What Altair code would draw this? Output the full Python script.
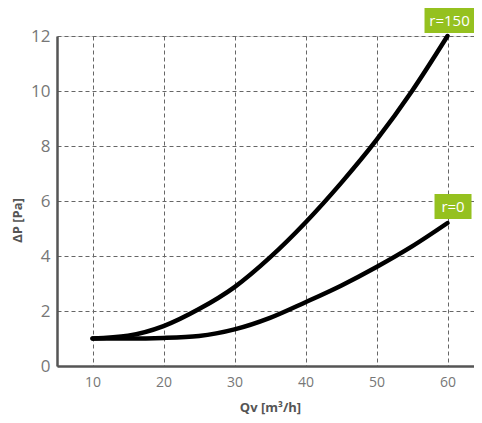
import altair as alt
import pandas as pd

qv = [10, 15, 20, 25, 30, 35, 40, 45, 50, 55, 60]
dp_r150 = [1.0, 1.1, 1.45, 2.07, 2.87, 3.95, 5.22, 6.65, 8.22, 10.0, 12.0]
dp_r0 = [1.0, 1.0, 1.02, 1.09, 1.33, 1.75, 2.32, 2.92, 3.6, 4.35, 5.2]
series = ["r=150", "r=0"]

rows = []
for q, a, b in zip(qv, dp_r150, dp_r0):
    rows.append({"qv": q, "dp": a, "s": series[0]})
    rows.append({"qv": q, "dp": b, "s": series[1]})
df = pd.DataFrame(rows)

labels = pd.DataFrame({
    "qv": [qv[-1], qv[-1]],
    "dp": [dp_r150[-1], dp_r0[-1]],
    "s": series,
})

FONT = "Open Sans"
x = alt.X("qv:Q", scale=alt.Scale(domain=[5, 63.73], nice=False, zero=False),
          axis=alt.Axis(values=[10, 20, 30, 40, 50, 60], title="Qv [m³/h]",
                        grid=True, gridDash=[4, 3], gridColor="#666", gridWidth=1,
                        ticks=False, domainColor="#555", domainWidth=2.5,
                        labelFontSize=14, labelColor="#777", labelPadding=9,
                        labelFont=FONT, titleFont=FONT, titleFontSize=13,
                        titleColor="#555", titleFontWeight="bold", titlePadding=12,
                        titleX=213))
y = alt.Y("dp:Q", scale=alt.Scale(domain=[0, 12], nice=False),
          axis=alt.Axis(values=[0, 2, 4, 6, 8, 10, 12], title="ΔP [Pa]",
                        grid=True, gridDash=[4, 3], gridColor="#666", gridWidth=1,
                        ticks=False, domainColor="#555", domainWidth=2.5,
                        labelFontSize=17, labelColor="#777", labelPadding=7,
                        labelFont=FONT, titleFont=FONT, titleFontSize=13,
                        titleColor="#555", titleFontWeight="bold",
                        titleX=-33, titleY=184))

lines = alt.Chart(df).mark_line(color="black", strokeWidth=4.5, interpolate="monotone",
                                strokeCap="round").encode(x=x, y=y, detail="s:N")

box150 = alt.Chart(labels[labels.s == "r=150"]).mark_rect(
    color="#95c11f", xOffset=-23, x2Offset=27, yOffset=-28, y2Offset=-3
).encode(x="qv:Q", x2="qv:Q", y="dp:Q", y2="dp:Q")
box0 = alt.Chart(labels[labels.s == "r=0"]).mark_rect(
    color="#95c11f", xOffset=-13, x2Offset=24, yOffset=-29, y2Offset=-4
).encode(x="qv:Q", x2="qv:Q", y="dp:Q", y2="dp:Q")
text150 = alt.Chart(labels[labels.s == "r=150"]).mark_text(
    color="white", font=FONT, fontSize=15, dx=2, dy=-15.5
).encode(x="qv:Q", y="dp:Q", text="s:N")
text0 = alt.Chart(labels[labels.s == "r=0"]).mark_text(
    color="white", font=FONT, fontSize=15, dx=5.5, dy=-16.5
).encode(x="qv:Q", y="dp:Q", text="s:N")

chart = alt.layer(lines, box150, box0, text150, text0).properties(
    width=417, height=330,
    autosize=alt.AutoSizeParams(type="none"),
    padding={"left": 49, "top": 28, "right": 0, "bottom": 50},
).configure_view(stroke=None).configure(background="white")

chart.save("out.html", embed_options={"renderer": "svg", "actions": False})
